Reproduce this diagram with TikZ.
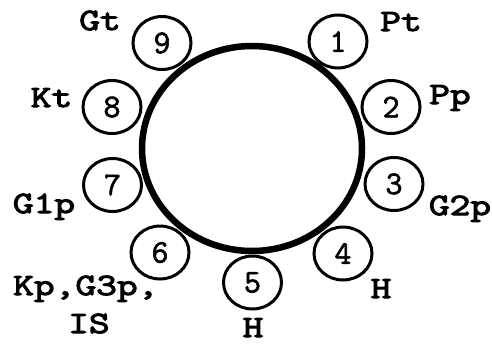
\documentclass[tikz,border=0pt]{standalone}
\usepackage{fontspec}
\usetikzlibrary{shapes.geometric}
\newfontfamily\labfont{Latin Modern Mono}[FakeStretch=1.3, FakeBold=3.5]
\newfontfamily\digfont{Latin Modern Mono}[FakeBold=1.8]
\tikzset{
  bigring/.style={draw, ellipse, line width=6.5pt, minimum width=220pt, minimum height=205pt, inner sep=0pt},
  ring/.style={draw, ellipse, line width=3pt, minimum width=58pt, minimum height=53pt, inner sep=0pt,
    font=\fontsize{33}{36}\selectfont\digfont},
  lab/.style={anchor=base, inner sep=0pt, font=\fontsize{31}{38}\selectfont\labfont}
}
\begin{document}
\begin{tikzpicture}[x=1pt, y=-1pt]
\useasboundingbox (0,0) rectangle (492,343);
\node[bigring] (big) at (252,148.5) {};
\node[ring] (c1) at (338,41.5) {1};
\node[ring] (c2) at (391,107) {2};
\node[ring] (c3) at (394,184) {3};
\node[ring] (c4) at (343,253.5) {4};
\node[ring] (c5) at (252.5,282.5) {5};
\node[ring] (c6) at (160,252.5) {6};
\node[ring] (c7) at (112.5,185) {7};
\node[ring] (c8) at (112,107) {8};
\node[ring] (c9) at (162,43) {9};
\node[lab] (l1) at (401,31) {Pt};
\node[lab] (l2) at (450,104) {Pp};
\node[lab] (l3) at (460,215) {G2p};
\node[lab] (l4) at (381,298) {H};
\node[lab] (l5) at (253,337) {H};
\node[lab, anchor=base west] (l6) at (13,333) {\begin{tabular}[b]{@{}l@{}}Kp,G3p,\\\hspace*{55pt}IS\end{tabular}};
\node[lab] (l7) at (44,213) {G1p};
\node[lab] (l8) at (51.5,107) {Kt};
\node[lab] (l9) at (100,30) {Gt};
\end{tikzpicture}
\end{document}
